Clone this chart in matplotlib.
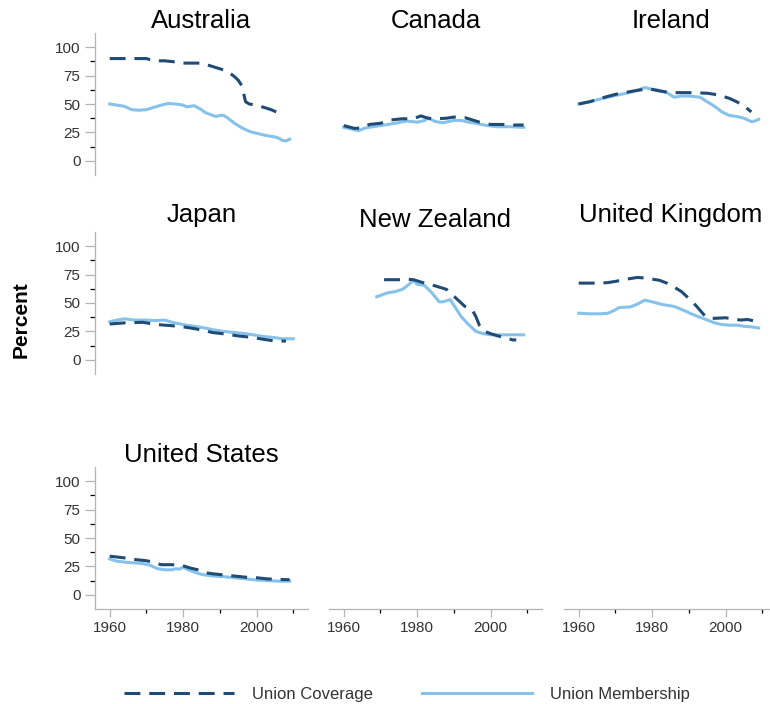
import matplotlib
matplotlib.use("Agg")
import matplotlib.pyplot as plt
from matplotlib.ticker import FixedLocator

plt.rcParams['font.family'] = ['Liberation Sans', 'DejaVu Sans']

countries = ["Australia", "Canada", "Ireland", "Japan", "New Zealand",
             "United Kingdom", "United States"]

# union coverage (dashed) and union membership (solid), percent
aus_cov_years = [1960, 1965, 1970, 1972, 1975, 1978, 1980, 1985, 1987, 1990, 1992,
                 1994, 1995, 1996, 1997, 1998, 2000, 2002, 2004, 2006]
aus_cov = [90, 90, 90, 88, 88, 87, 86, 86, 84, 81, 79, 74, 71, 66, 52, 50, 49, 47, 45, 42]
aus_mem_years = [1960, 1962, 1964, 1966, 1968, 1970, 1972, 1974, 1976, 1978, 1980, 1981,
                 1983, 1985, 1986, 1988, 1989, 1990, 1991, 1992, 1994, 1996, 1998, 1999,
                 2001, 2003, 2005, 2006, 2007, 2008, 2009]
aus_mem = [50, 49, 48, 45, 44.5, 45, 47, 49, 50.5, 50, 49, 47.5, 48.5, 45, 42.5, 40, 39,
           40, 40, 38, 33, 29, 26, 25, 23.5, 22, 21, 20, 18, 17.5, 19]

can_cov_years = [1960, 1963, 1965, 1967, 1970, 1973, 1976, 1979, 1981, 1983, 1985, 1988,
                 1990, 1993, 1995, 1997, 2000, 2003, 2006, 2009]
can_cov = [31, 28.5, 29, 32, 33, 36, 37, 37, 39.5, 37.5, 37, 37.5, 38.5, 38, 36, 34, 32,
           32, 31.5, 31.5]
can_mem_years = [1960, 1962, 1964, 1966, 1968, 1971, 1974, 1977, 1980, 1982, 1983, 1985,
                 1987, 1990, 1992, 1994, 1996, 1999, 2002, 2005, 2009]
can_mem = [29.5, 28, 26.5, 29, 30, 31.5, 33, 35, 34, 35.5, 37.5, 34.5, 33.5, 35.5, 35.5,
           34, 33, 31, 30, 30, 29.5]

irl_cov_years = [1960, 1963, 1966, 1970, 1975, 1979, 1982, 1985, 1990, 1995, 1998, 2001,
                 2003, 2005, 2007]
irl_cov = [50, 52, 55, 58.5, 61.5, 63.5, 61.5, 60, 60, 59.5, 58, 55, 52, 48.5, 43]
irl_mem_years = [1960, 1963, 1966, 1970, 1973, 1975, 1978, 1980, 1982, 1984, 1986, 1988,
                 1990, 1993, 1995, 1997, 1999, 2001, 2003, 2005, 2007, 2008, 2009]
irl_mem = [50, 52, 54.5, 57.5, 59.5, 61, 64.5, 63, 62, 60, 56, 57, 57, 56, 52, 48, 43, 40,
           39, 37.5, 34.5, 35, 36.5]

jpn_cov_years = [1960, 1964, 1969, 1973, 1977, 1980, 1983, 1986, 1988, 1992, 1995, 1998,
                 2002, 2005, 2008]
jpn_cov = [31.5, 32.5, 33, 31, 30, 29, 27.5, 25.5, 24, 22.5, 21, 20, 18, 16.5, 16.5]
jpn_mem_years = [1960, 1962, 1964, 1967, 1970, 1972, 1975, 1977, 1980, 1983, 1986, 1988,
                 1991, 1994, 1997, 1999, 2002, 2005, 2007, 2010]
jpn_mem = [33.5, 35, 36, 35, 35, 34.5, 35, 33, 31, 29.5, 28, 26.5, 25, 24, 23, 22, 20.5,
           19.5, 18.5, 18.5]

nzl_cov_years = [1971, 1975, 1977, 1979, 1982, 1985, 1988, 1990, 1991, 1993, 1995, 1996,
                 1997, 1998, 2000, 2002, 2004, 2006, 2007]
nzl_cov = [70.5, 70.5, 71, 70.5, 67.5, 65, 62, 56, 53, 47, 44, 38, 30, 25.5, 23, 21, 19.5,
           17.5, 17.5]
nzl_mem_years = [1969, 1972, 1974, 1976, 1978, 1979, 1980, 1982, 1984, 1986, 1987, 1989,
                 1990, 1992, 1994, 1996, 1998, 2000, 2003, 2009]
nzl_mem = [55.5, 59, 60, 62, 67, 70, 66.5, 65.5, 59, 51, 51, 53, 48, 38, 31, 25, 23, 22,
           22, 22]

gbr_cov_years = [1960, 1966, 1968, 1970, 1973, 1976, 1978, 1980, 1982, 1984, 1986, 1988,
                 1990, 1992, 1994, 1995, 1997, 2000, 2002, 2004, 2006, 2008]
gbr_cov = [67.5, 67.5, 68, 69, 71, 72.5, 72, 71, 70, 67.5, 64, 60, 54, 47.5, 40, 37, 36.5,
           37, 36, 35, 35.5, 34]
gbr_mem_years = [1960, 1963, 1966, 1968, 1970, 1971, 1974, 1976, 1978, 1980, 1983, 1986,
                 1989, 1991, 1993, 1995, 1997, 1999, 2001, 2003, 2005, 2007, 2009]
gbr_mem = [41, 40.5, 40.5, 41, 44, 46, 46.5, 49, 52.5, 51, 48.5, 47, 43, 40, 37.5, 35,
           32.5, 31, 30.5, 30.5, 29.5, 29, 28]

usa_cov_years = [1960, 1964, 1967, 1970, 1972, 1974, 1977, 1979, 1980, 1982, 1984, 1986,
                 1988, 1991, 1994, 1997, 2000, 2003, 2006, 2009]
usa_cov = [34, 32.5, 31, 30, 28.5, 26.5, 26.5, 26, 25.5, 23.5, 22, 19.5, 18.5, 17.5, 16.5,
           15.5, 15, 14, 13.5, 13.3]
usa_mem_years = [1960, 1962, 1965, 1969, 1971, 1973, 1975, 1977, 1978, 1979, 1980, 1981,
                 1983, 1985, 1988, 1991, 1994, 1997, 2000, 2003, 2006, 2009]
usa_mem = [31.5, 29.5, 28.5, 27.5, 26, 23, 22, 22, 23, 22.5, 24.5, 22.5, 20, 18, 16.5, 16,
           15, 14, 13, 12.5, 12, 12]

panels = [
    (aus_cov_years, aus_cov, aus_mem_years, aus_mem),
    (can_cov_years, can_cov, can_mem_years, can_mem),
    (irl_cov_years, irl_cov, irl_mem_years, irl_mem),
    (jpn_cov_years, jpn_cov, jpn_mem_years, jpn_mem),
    (nzl_cov_years, nzl_cov, nzl_mem_years, nzl_mem),
    (gbr_cov_years, gbr_cov, gbr_mem_years, gbr_mem),
    (usa_cov_years, usa_cov, usa_mem_years, usa_mem),
]

y_major = [0, 25, 50, 75, 100]
y_minor = [12.5, 37.5, 62.5, 87.5]
x_major = [1960, 1980, 2000]
x_minor = [1970, 1990, 2010]

dark = "#1f4b75"
light = "#86c2ea"
spine_col = "#b4b4b4"
text_col = "#333333"

W, H = 770, 704
fig = plt.figure(figsize=(W / 100, H / 100), dpi=100)

col_left = [95, 329, 564]
row_top = [33, 232, 467]
aw, ah = 213, 142

for i in range(9):
    r, c = divmod(i, 3)
    ax = fig.add_axes([col_left[c] / W, (H - row_top[r] - ah) / H, aw / W, ah / H])
    ax.set_xlim(1956, 2014)
    ax.set_ylim(-12.5, 112.5)
    for s in ax.spines.values():
        s.set_visible(False)

    # y axis only in the first column
    if c == 0:
        ax.spines['left'].set_visible(True)
        ax.spines['left'].set_color(spine_col)
        ax.spines['left'].set_linewidth(0.9)
        ax.yaxis.set_major_locator(FixedLocator(y_major))
        ax.yaxis.set_minor_locator(FixedLocator(y_minor))
        ax.tick_params(axis='y', which='major', length=7, width=0.9, color=spine_col,
                       labelsize=11, labelcolor=text_col, pad=3.5)
        ax.tick_params(axis='y', which='minor', length=3.5, width=0.9, color='black')
    else:
        ax.set_yticks([])

    # x axis only in the bottom row
    if r == 2:
        ax.spines['bottom'].set_visible(True)
        ax.spines['bottom'].set_color(spine_col)
        ax.spines['bottom'].set_linewidth(0.9)
        ax.xaxis.set_major_locator(FixedLocator(x_major))
        ax.xaxis.set_minor_locator(FixedLocator(x_minor))
        ax.tick_params(axis='x', which='major', length=5.5, width=0.9, color=spine_col,
                       labelsize=11, labelcolor=text_col, pad=3)
        ax.tick_params(axis='x', which='minor', length=3, width=0.9, color='black')
    else:
        ax.set_xticks([])

    if i >= len(countries):
        ax.patch.set_visible(False)
        continue

    name = countries[i]
    cy, cv, my, mv = panels[i]
    ax.plot(my, mv, color=light, lw=2.2, solid_joinstyle='round')
    ax.plot(cy, cv, color=dark, lw=2.2, linestyle=(0, (5.2, 2.9)))
    pad = 7 if any(ch in 'gjpqy' for ch in name) else 3.6
    ax.set_title(name, fontsize=18.5, pad=pad, color='black')

fig.text(21 / W, 1 - 320 / H, "Percent", rotation=90, fontsize=15, fontweight='bold',
         ha='center', va='center', color='black')

h_cov, = plt.plot([], [], color=dark, lw=2.2, linestyle=(0, (5.2, 2.9)))
h_mem, = plt.plot([], [], color=light, lw=2.2)
leg = fig.legend([h_cov, h_mem], ["Union Coverage", "Union Membership"],
                 loc='center', bbox_to_anchor=(407 / W, 1 - 694 / H), ncol=2,
                 frameon=False, fontsize=12, handlelength=6.6, handletextpad=1.1,
                 columnspacing=2.9)
for t in leg.get_texts():
    t.set_color(text_col)

fig.savefig("out.png", dpi=100)
